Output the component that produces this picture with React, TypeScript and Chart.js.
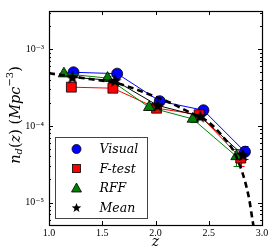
import React, { useEffect, useRef } from "react";
import { Chart, registerables } from "chart.js";

Chart.register(...registerables);

// ---- data ----
const visualZ = [1.23, 1.64, 2.04, 2.45, 2.84];
const visualN = [5.0e-4, 4.8e-4, 2.1e-4, 1.6e-4, 4.6e-5];
const visualErr = [3e-5, 3e-5, 1.5e-5, 1.2e-5, 0.9e-5];

const ftestZ = [1.21, 1.6, 2.01, 2.41, 2.8];
const ftestN = [3.2e-4, 3.1e-4, 1.7e-4, 1.4e-4, 3.8e-5];
const ftestErr = [2e-5, 2e-5, 1.2e-5, 1e-5, 0.8e-5];

const rffZ = [1.14, 1.55, 1.94, 2.35, 2.76];
const rffN = [4.8e-4, 4.2e-4, 1.75e-4, 1.23e-4, 4.0e-5];
const rffErr = [3e-5, 3e-5, 1.2e-5, 1e-5, 1.0e-5];

const meanZ = [1.22, 1.62, 2.02, 2.42, 2.82];
const meanN = [4.3e-4, 3.9e-4, 1.85e-4, 1.33e-4, 4.2e-5];

const fitZ = [1.0, 1.2, 1.4, 1.6, 1.76, 1.95, 2.14, 2.32, 2.5, 2.63, 2.73, 2.79, 2.84, 2.88, 2.91, 2.925];
const fitN = [4.85e-4, 4.45e-4, 4.05e-4, 3.7e-4, 3.2e-4, 2.55e-4, 2.0e-4, 1.5e-4, 1.12e-4, 7.3e-5, 4.8e-5, 3.1e-5, 1.9e-5, 1.1e-5, 6.0e-6, 4.5e-6];

const yTicks = [
  6e-6, 7e-6, 8e-6, 9e-6,
  1e-5, 2e-5, 3e-5, 4e-5, 5e-5, 6e-5, 7e-5, 8e-5, 9e-5,
  1e-4, 2e-4, 3e-4, 4e-4, 5e-4, 6e-4, 7e-4, 8e-4, 9e-4,
  1e-3, 2e-3, 3e-3,
];
const legendLabels = ["Visual", "F-test", "RFF", "Mean"];

const SERIF = "'Liberation Serif', 'DejaVu Serif', serif";
const MATH = "'DejaVu Serif', serif";

const isPow10 = (v: number) => Math.abs(Math.log10(v) - Math.round(Math.log10(v))) < 1e-6;
const supers: Record<string, string> = { "-": "⁻", "0": "⁰", "1": "¹", "2": "²", "3": "³", "4": "⁴", "5": "⁵", "6": "⁶", "7": "⁷", "8": "⁸", "9": "⁹" };
const powLabel = (v: number) => "10" + String(Math.round(Math.log10(v))).split("").map((c) => supers[c]).join("");

function drawStar(ctx: CanvasRenderingContext2D, cx: number, cy: number, r: number) {
  ctx.beginPath();
  for (let i = 0; i < 10; i++) {
    const rad = i % 2 === 0 ? r : r * 0.42;
    const a = -Math.PI / 2 + (i * Math.PI) / 5;
    const px = cx + rad * Math.cos(a);
    const py = cy + rad * Math.sin(a);
    if (i === 0) ctx.moveTo(px, py);
    else ctx.lineTo(px, py);
  }
  ctx.closePath();
  ctx.fillStyle = "#000";
  ctx.fill();
}

function makeStarImage(r: number) {
  const c = document.createElement("canvas");
  const s = Math.ceil(2 * r + 2);
  c.width = s;
  c.height = s;
  const ctx = c.getContext("2d")!;
  drawStar(ctx, s / 2, s / 2 + 0.5, r);
  return c;
}

export default function App() {
  const ref = useRef<HTMLCanvasElement | null>(null);

  useEffect(() => {
    document.body.style.margin = "0";
    const canvas = ref.current!;
    const star = makeStarImage(7);

    const errorBars = {
      id: "errorBars",
      beforeDatasetsDraw(chart: any) {
        const ctx = chart.ctx;
        const xs = chart.scales.x;
        const ys = chart.scales.y;
        const sets = [
          { z: visualZ, n: visualN, e: visualErr, c: "#0000ff" },
          { z: ftestZ, n: ftestN, e: ftestErr, c: "#ff0000" },
          { z: rffZ, n: rffN, e: rffErr, c: "#008000" },
        ];
        ctx.save();
        ctx.lineWidth = 1;
        for (const s of sets) {
          ctx.strokeStyle = s.c;
          s.z.forEach((z, i) => {
            const px = Math.round(xs.getPixelForValue(z)) + 0.5;
            const y1 = ys.getPixelForValue(s.n[i] + s.e[i]);
            const y2 = ys.getPixelForValue(s.n[i] - s.e[i]);
            ctx.beginPath();
            ctx.moveTo(px, y1);
            ctx.lineTo(px, y2);
            ctx.moveTo(px - 3, Math.round(y1) + 0.5);
            ctx.lineTo(px + 3, Math.round(y1) + 0.5);
            ctx.moveTo(px - 3, Math.round(y2) + 0.5);
            ctx.lineTo(px + 3, Math.round(y2) + 0.5);
            ctx.stroke();
          });
        }
        ctx.restore();
      },
    };

    const frame = {
      id: "frame",
      afterDraw(chart: any) {
        const ctx = chart.ctx;
        const a = chart.chartArea;
        const xs = chart.scales.x;
        const ys = chart.scales.y;
        ctx.save();
        ctx.strokeStyle = "#000";
        ctx.lineWidth = 1;
        ctx.beginPath();
        for (const t of ys.ticks) {
          const y = Math.round(ys.getPixelForValue(t.value)) + 0.5;
          const len = isPow10(t.value) ? 4 : 2;
          ctx.moveTo(a.left, y);
          ctx.lineTo(a.left + len, y);
          ctx.moveTo(a.right, y);
          ctx.lineTo(a.right - len, y);
        }
        for (const t of xs.ticks) {
          const x = Math.round(xs.getPixelForValue(t.value)) + 0.5;
          ctx.moveTo(x, a.bottom);
          ctx.lineTo(x, a.bottom - 4);
          ctx.moveTo(x, a.top);
          ctx.lineTo(x, a.top + 4);
        }
        ctx.stroke();
        ctx.lineWidth = 1.2;
        ctx.strokeRect(Math.round(a.left) + 0.5, Math.round(a.top) + 0.5, Math.round(a.right - a.left), Math.round(a.bottom - a.top));

        // legend
        const lx = a.left + 6.5;
        const lw = 92;
        const lh = 81;
        const ly = a.bottom - 7 - lh + 0.5;
        ctx.fillStyle = "#fff";
        ctx.fillRect(lx, ly, lw, lh);
        ctx.strokeStyle = "#444";
        ctx.lineWidth = 1;
        ctx.strokeRect(lx, ly, lw, lh);
        ctx.font = `italic 12.5px ${MATH}`;
        ctx.textBaseline = "middle";
        ctx.textAlign = "left";
        legendLabels.forEach((lab, i) => {
          const cy = ly + 11.5 + 19.5 * i;
          const mx = lx + 21;
          ctx.strokeStyle = "#000";
          ctx.lineWidth = 0.8;
          if (i === 0) {
            ctx.beginPath();
            ctx.arc(mx, cy, 4.5, 0, Math.PI * 2);
            ctx.fillStyle = "#0000ff";
            ctx.fill();
            ctx.stroke();
          } else if (i === 1) {
            ctx.fillStyle = "#ff0000";
            ctx.fillRect(mx - 4, cy - 4, 8, 8);
            ctx.strokeRect(mx - 4, cy - 4, 8, 8);
          } else if (i === 2) {
            ctx.beginPath();
            ctx.moveTo(mx, cy - 5);
            ctx.lineTo(mx + 5, cy + 4);
            ctx.lineTo(mx - 5, cy + 4);
            ctx.closePath();
            ctx.fillStyle = "#008000";
            ctx.fill();
            ctx.stroke();
          } else {
            drawStar(ctx, mx, cy + 0.5, 5);
          }
          ctx.fillStyle = "#000";
          ctx.fillText(lab, lx + 44, cy + 1);
        });

        // y axis title
        ctx.save();
        ctx.translate(16, 115);
        ctx.rotate(-Math.PI / 2);
        const parts: { t: string; f: string; dy: number }[] = [
          { t: "n", f: `italic 14.5px ${MATH}`, dy: 0 },
          { t: "d", f: `italic 10px ${MATH}`, dy: 3 },
          { t: "(", f: `14.5px ${MATH}`, dy: 0 },
          { t: "z", f: `italic 14.5px ${MATH}`, dy: 0 },
          { t: ") (", f: `14.5px ${MATH}`, dy: 0 },
          { t: "Mpc", f: `italic 14.5px ${MATH}`, dy: 0 },
          { t: "−3", f: `10px ${MATH}`, dy: -6 },
          { t: ")", f: `14.5px ${MATH}`, dy: 0 },
        ];
        let total = 0;
        for (const p of parts) {
          ctx.font = p.f;
          total += ctx.measureText(p.t).width;
        }
        let cx = -total / 2;
        ctx.fillStyle = "#000";
        ctx.textAlign = "left";
        ctx.textBaseline = "middle";
        for (const p of parts) {
          ctx.font = p.f;
          ctx.fillText(p.t, cx, p.dy);
          cx += ctx.measureText(p.t).width;
        }
        ctx.restore();

        // x axis title
        ctx.font = `italic 14px ${MATH}`;
        ctx.textAlign = "center";
        ctx.textBaseline = "middle";
        ctx.fillStyle = "#000";
        ctx.fillText("z", (a.left + a.right) / 2, 242);
        ctx.restore();
      },
    };

    const mk = (zs: number[], ns: number[]) => zs.map((z, i) => ({ x: z, y: ns[i] }));

    const chart = new Chart(canvas, {
      type: "line",
      data: {
        datasets: [
          {
            label: "Visual",
            data: mk(visualZ, visualN),
            borderColor: "#0000ff",
            backgroundColor: "#0000ff",
            borderWidth: 1,
            pointStyle: "circle",
            pointRadius: 5.5,
            pointBorderColor: "#000",
            pointBorderWidth: 0.8,
            order: 4,
          },
          {
            label: "F-test",
            data: mk(ftestZ, ftestN),
            borderColor: "#ff0000",
            backgroundColor: "#ff0000",
            borderWidth: 1,
            pointStyle: "rect",
            pointRadius: 7,
            pointBorderColor: "#000",
            pointBorderWidth: 0.8,
            order: 3,
          },
          {
            label: "RFF",
            data: mk(rffZ, rffN),
            borderColor: "#008000",
            backgroundColor: "#008000",
            borderWidth: 1,
            pointStyle: "triangle",
            pointRadius: 6.5,
            pointBorderColor: "#000",
            pointBorderWidth: 0.8,
            order: 2,
          },
          {
            label: "fit",
            data: mk(fitZ, fitN),
            borderColor: "#000",
            borderWidth: 2.6,
            borderDash: [6, 4],
            pointRadius: 0,
            cubicInterpolationMode: "monotone",
            order: 1,
          },
          {
            label: "Mean",
            data: mk(meanZ, meanN),
            borderColor: "#000",
            backgroundColor: "#000",
            borderWidth: 1,
            pointStyle: star as any,
            pointRadius: 7,
            order: 0,
          },
        ],
      },
      options: {
        animation: false,
        responsive: false,
        clip: true as any,
        layout: { padding: { top: 5, right: 12, left: 0, bottom: 0 } },
        plugins: { legend: { display: false }, tooltip: { enabled: false } },
        scales: {
          x: {
            type: "linear",
            min: 1.0,
            max: 3.0,
            grid: { display: false, drawTicks: false, tickLength: 0 },
            border: { display: false },
            afterFit: (s: any) => {
              s.height = 26;
            },
            ticks: {
              stepSize: 0.5,
              padding: 2,
              autoSkip: false,
              maxRotation: 0,
              minRotation: 0,
              color: "#000",
              font: { family: SERIF, size: 10 },
              callback: (v: any) => Number(v).toFixed(1),
            },
          },
          y: {
            type: "logarithmic",
            min: 5.1e-6,
            max: 3.15e-3,
            grid: { display: false, drawTicks: false, tickLength: 0 },
            border: { display: false },
            afterBuildTicks: (s: any) => {
              s.ticks = yTicks.map((v) => ({ value: v, major: isPow10(v) }));
            },
            afterFit: (s: any) => {
              s.width = 49;
            },
            ticks: {
              padding: 5,
              autoSkip: false,
              color: "#000",
              font: { family: SERIF, size: 10 },
              callback: (v: any) => (isPow10(Number(v)) ? powLabel(Number(v)) : ""),
            },
          },
        },
      },
      plugins: [errorBars, frame],
    } as any);

    return () => chart.destroy();
  }, []);

  return (
    <div style={{ width: 274, height: 251 }}>
      <canvas ref={ref} width={274} height={251} style={{ display: "block" }} />
    </div>
  );
}
